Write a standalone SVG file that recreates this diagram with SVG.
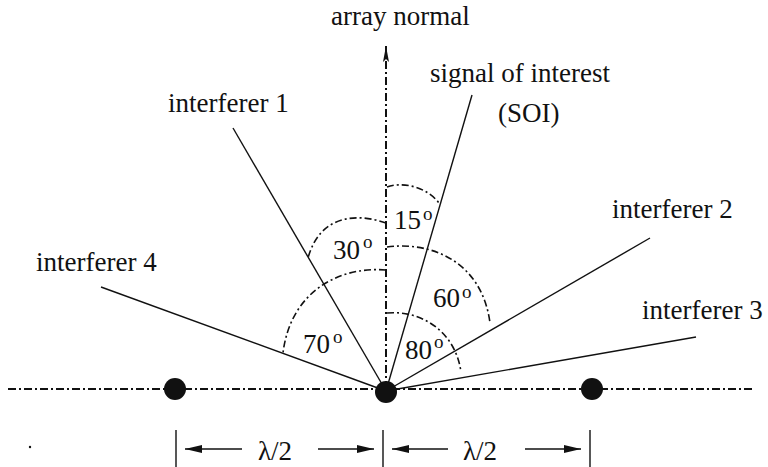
<svg xmlns="http://www.w3.org/2000/svg" width="768" height="467" viewBox="0 0 768 467">
<defs>
<style>
.t{font-family:"Liberation Serif","Times New Roman",serif;font-size:27px;fill:#111}
.deg{font-family:"Liberation Serif","Times New Roman",serif;font-size:19px;fill:#111}
.ray{stroke:#111;stroke-width:1.4;fill:none}
.axis{stroke:#111;stroke-width:2;fill:none;stroke-dasharray:8 3 2 3}
.arc{stroke:#111;stroke-width:1.6;fill:none;stroke-dasharray:7 3 2 3}
.dim{stroke:#111;stroke-width:1.4;fill:none}
.dot{fill:#111}
</style>
<marker id="dimhead" markerUnits="userSpaceOnUse" markerWidth="18" markerHeight="9" refX="17" refY="4" orient="auto">
<path d="M0,0 L17,4 L0,8 z" fill="#111"/>
</marker>
<marker id="normhead" markerUnits="userSpaceOnUse" markerWidth="17" markerHeight="7" refX="16" refY="3" orient="auto">
<path d="M0,0 L16,3 L0,6 L3,3 z" fill="#111"/>
</marker>
</defs>
<rect width="768" height="467" fill="#fff"/>

<g id="connectors">
<line class="axis" x1="8" y1="389" x2="752" y2="389"/>
<line class="axis" x1="386" y1="389" x2="386" y2="46" marker-end="url(#normhead)"/>
<line class="ray" x1="386" y1="391" x2="233" y2="128"/>
<line class="ray" x1="386" y1="391" x2="472" y2="95"/>
<line class="ray" x1="386" y1="391" x2="650" y2="238"/>
<line class="ray" x1="386" y1="391" x2="696" y2="337"/>
<line class="ray" x1="386" y1="391" x2="101" y2="287"/>
<path class="arc" d="M387,187 C400,182 425,185 439,203"/>
<path class="arc" d="M386,223 C358,213 320,214 308,258"/>
<path class="arc" d="M387,247 C432,241 482,262 490,323"/>
<path class="arc" d="M387,313 C420,310 455,330 461,372"/>
<path class="arc" d="M386,270 C335,266 290,295 283,353"/>
<line class="dim" x1="176" y1="430" x2="176" y2="467"/>
<line class="dim" x1="383" y1="430" x2="383" y2="467"/>
<line class="dim" x1="590" y1="430" x2="590" y2="467"/>
<line class="dim" x1="242" y1="449" x2="185" y2="449" marker-end="url(#dimhead)"/>
<line class="dim" x1="318" y1="449" x2="374" y2="449" marker-end="url(#dimhead)"/>
<line class="dim" x1="448" y1="449" x2="392" y2="449" marker-end="url(#dimhead)"/>
<line class="dim" x1="525" y1="449" x2="581" y2="449" marker-end="url(#dimhead)"/>
</g>

<g id="element-left"><circle class="dot" cx="175" cy="389" r="11"/></g>
<g id="element-center"><circle class="dot" cx="386" cy="392" r="11"/></g>
<g id="element-right"><circle class="dot" cx="592" cy="389" r="11"/></g>
<circle class="dot" cx="30" cy="447" r="1.2"/>

<g id="label-normal"><text class="t" x="331" y="25">array normal</text></g>
<g id="label-soi"><text class="t" x="430" y="82">signal of interest</text><text class="t" x="498" y="122">(SOI)</text></g>
<g id="label-int1"><text class="t" x="168" y="112">interferer 1</text></g>
<g id="label-int2"><text class="t" x="612" y="218">interferer 2</text></g>
<g id="label-int3"><text class="t" x="642" y="319">interferer 3</text></g>
<g id="label-int4"><text class="t" x="36" y="271">interferer 4</text></g>

<g id="angle-15"><text class="t" x="394" y="229">15</text><text class="deg" x="423" y="220">o</text></g>
<g id="angle-30"><text class="t" x="333" y="259">30</text><text class="deg" x="363" y="248">o</text></g>
<g id="angle-60"><text class="t" x="433" y="307">60</text><text class="deg" x="462" y="298">o</text></g>
<g id="angle-70"><text class="t" x="303" y="353">70</text><text class="deg" x="333" y="343">o</text></g>
<g id="angle-80"><text class="t" x="405" y="359">80</text><text class="deg" x="434" y="348">o</text></g>

<g id="dim-left"><text class="t" x="258" y="460">λ/2</text></g>
<g id="dim-right"><text class="t" x="463" y="460">λ/2</text></g>
</svg>
